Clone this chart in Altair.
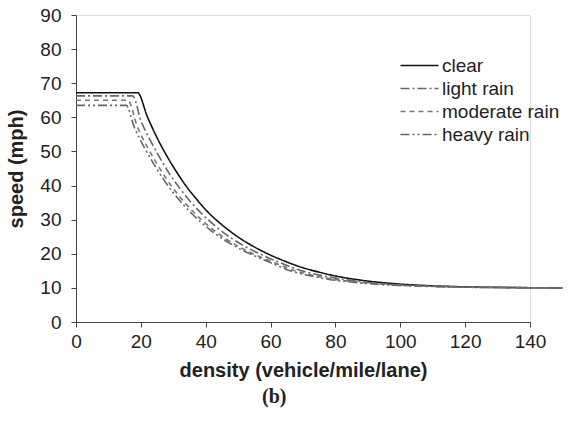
import altair as alt
import pandas as pd

series_names = ["clear", "light rain", "moderate rain", "heavy rain"]

clear_density = [0, 19, 22, 25, 28, 31, 34, 37, 40, 45, 50, 55, 60, 65, 70, 75, 80, 90, 100, 110, 120, 135, 150]
clear_speed = [67.2, 67.2, 60.2, 54.0, 48.7, 44.0, 39.8, 36.2, 32.9, 28.5, 24.9, 22.0, 19.6, 17.6, 15.9, 14.6, 13.5, 12.0, 11.1, 10.6, 10.3, 10.1, 10]

light_density = [0, 17.5, 20, 23, 26, 29, 32, 35, 38, 43, 48, 53, 58, 63, 68, 73, 78, 88, 98, 110, 120, 135, 150]
light_speed = [66.3, 66.3, 59.1, 53.1, 47.9, 43.2, 39.2, 35.6, 32.5, 28.1, 24.5, 21.7, 19.4, 17.4, 15.5, 14.2, 13.2, 11.8, 11.0, 10.5, 10.25, 10.08, 10]

moderate_density = [0, 16, 19, 22, 25, 28, 31, 34, 37, 42, 47, 52, 57, 62, 67, 72, 77, 87, 97, 110, 120, 135, 150]
moderate_speed = [65, 65, 57.0, 51.3, 46.3, 41.8, 37.9, 34.5, 31.5, 27.3, 23.9, 21.2, 19.0, 17.1, 15.2, 13.9, 12.9, 11.7, 10.9, 10.45, 10.2, 10.07, 10]

heavy_density = [0, 15.5, 18, 21, 24, 27, 30, 33, 36, 41, 46, 51, 56, 61, 66, 71, 76, 86, 96, 110, 120, 135, 150]
heavy_speed = [63.5, 63.5, 57.0, 51.3, 46.3, 41.8, 37.9, 34.5, 31.5, 27.3, 23.9, 21.2, 19.0, 17.0, 15.0, 13.8, 12.8, 11.6, 10.9, 10.4, 10.2, 10.07, 10]

x_ticks = [0, 20, 40, 60, 80, 100, 120, 140]
y_ticks = [0, 10, 20, 30, 40, 50, 60, 70, 80, 90]

rows = []
for name, ds, ss in [
    ("clear", clear_density, clear_speed),
    ("light rain", light_density, light_speed),
    ("moderate rain", moderate_density, moderate_speed),
    ("heavy rain", heavy_density, heavy_speed),
]:
    for i, (d, s) in enumerate(zip(ds, ss)):
        rows.append({"series": name, "density": d, "speed": s, "order": i})
df = pd.DataFrame(rows)

font = "Liberation Sans"

legend = alt.Legend(title=None, orient="none", legendX=333, legendY=40,
                    symbolType="M-2,0H2", symbolSize=361, symbolStrokeWidth=1.6,
                    labelFontSize=19, labelFont=font, labelColor="#222",
                    rowPadding=2, labelOffset=12)

chart = alt.Chart(df).mark_line(strokeWidth=1.6, interpolate="monotone", clip=False).encode(
    x=alt.X("density:Q",
            scale=alt.Scale(domain=[0, 140], nice=False),
            axis=alt.Axis(values=x_ticks, title="density (vehicle/mile/lane)", grid=False,
                          labelFlush=False,
                          labelFontSize=19, titleFontSize=20, titleFontWeight="bold",
                          labelFont=font, titleFont=font, labelColor="#222", titleColor="#222",
                          domainColor="#444", tickColor="#444", tickSize=5,
                          labelPadding=5, titlePadding=9)),
    y=alt.Y("speed:Q",
            scale=alt.Scale(domain=[0, 90], nice=False),
            axis=alt.Axis(values=y_ticks, title="speed (mph)", grid=False,
                          labelFlush=False,
                          labelFontSize=19, titleFontSize=20, titleFontWeight="bold",
                          labelFont=font, titleFont=font, labelColor="#222", titleColor="#222",
                          domainColor="#444", tickColor="#444", tickSize=5,
                          labelPadding=10, titlePadding=13)),
    color=alt.Color("series:N",
                    scale=alt.Scale(domain=series_names, range=["#111111", "#666666", "#777777", "#666666"]),
                    legend=legend),
    strokeDash=alt.StrokeDash("series:N",
                              scale=alt.Scale(domain=series_names,
                                              range=[[1, 0], [9, 3, 2, 3], [5, 4], [9, 3, 2, 3, 2, 3]]),
                              legend=legend),
    order="order:Q",
).properties(
    width=454,
    height=307,
    title=alt.TitleParams("(b)", orient="bottom", anchor="start", frame="group", dx=186, offset=7,
                          font="Liberation Serif", fontWeight="bold", fontSize=20, color="#222"),
    padding={"left": 76, "top": 15, "right": 41, "bottom": 102},
    autosize=alt.AutoSizeParams(type="none"),
).configure_view(stroke=None).configure(background="white")

chart.save("out.html", embed_options={"renderer": "svg", "actions": False})
